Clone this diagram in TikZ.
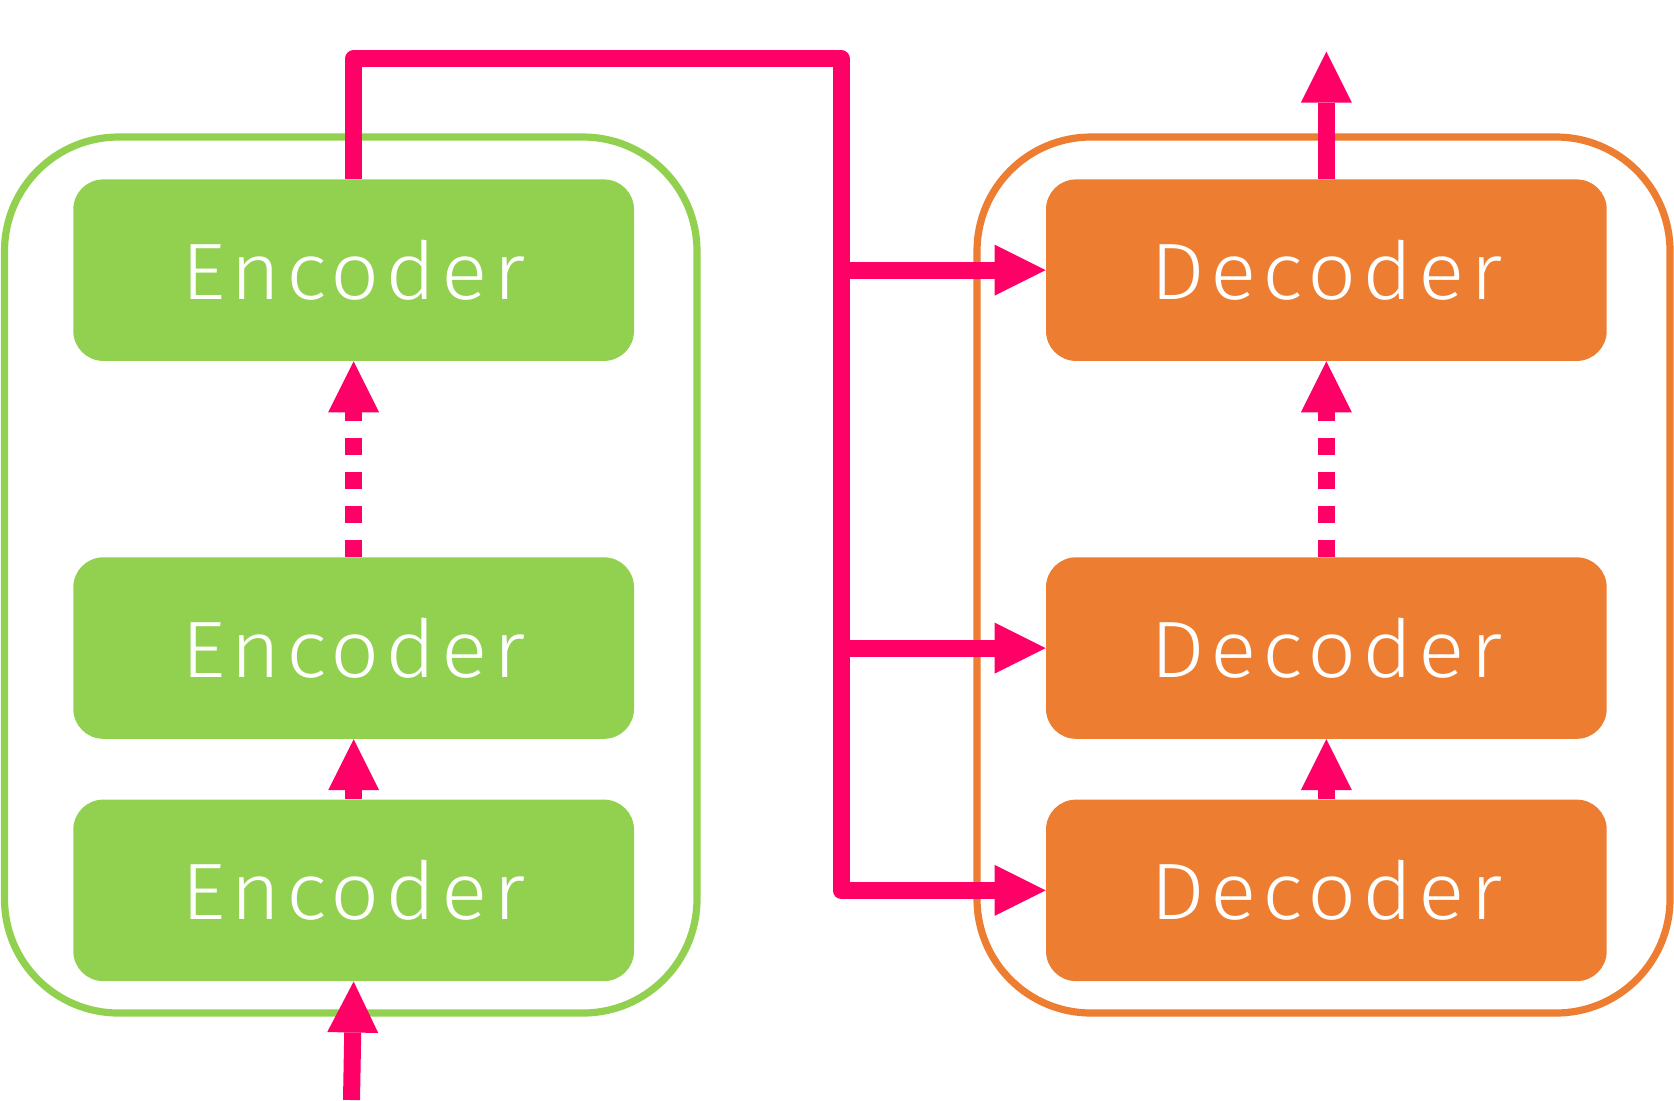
\documentclass[tikz,border=0pt]{standalone}
\usepackage{fontspec}
\usetikzlibrary{arrows.meta}
\newfontfamily\lblfont{Fira Sans Light}[LetterSpace=7,FakeStretch=1.08]
\definecolor{pinkc}{HTML}{FF0066}
\definecolor{greenc}{HTML}{92D050}
\definecolor{orangec}{HTML}{ED7D31}
\begin{document}
\begin{tikzpicture}[x=0.5pt,y=-0.5pt,
 box/.style={rectangle, rounded corners=15pt, minimum width=280.35pt, minimum height=90.75pt, inner sep=0pt, text=white, font=\lblfont\fontsize{40}{48}\selectfont},
 encbox/.style={box, fill=greenc},
 decbox/.style={box, fill=orangec},
 outer/.style={line width=3.6pt, rounded corners=57pt},
 arr/.style={draw=pinkc, line width=8.5pt, line join=round, -{Triangle[length=25.5pt,width=25.5pt,line width=0pt]}},
 dotarr/.style={arr, dash pattern=on 8.5pt off 8.5pt},
]
\useasboundingbox (0,0) rectangle (1674,1100);
\draw[outer, greenc] (4.5,137) rectangle (697,1013);
\draw[outer, orangec] (977,137) rectangle (1670,1013);

\node[encbox] (e1) at (353.65,890.35) {Encoder};
\node[encbox] (e2) at (353.65,648.05) {Encoder};
\node[encbox] (e3) at (353.65,270.15) {Encoder};
\node[decbox] (d1) at (1326.35,890.35) {Decoder};
\node[decbox] (d2) at (1326.35,648.05) {Decoder};
\node[decbox] (d3) at (1326.35,270.15) {Decoder};

\coordinate (in) at (351.5,1100);
\coordinate (out) at (1326.35,51.7);
\coordinate (bus) at (841,58.7);

\draw[arr] (in) -- (e1.south);
\draw[arr] (e1.north) -- (e2.south);
\draw[dotarr] (e2.north) -- (e3.south);
\draw[arr] (d1.north) -- (d2.south);
\draw[dotarr] (d2.north) -- (d3.south);
\draw[arr] (d3.north) -- (out);
\draw[arr] (e3.north) |- (bus) |- (d1.west);
\draw[arr] (bus |- d2.west) -- (d2.west);
\draw[arr] (bus |- d3.west) -- (d3.west);
\end{tikzpicture}
\end{document}
